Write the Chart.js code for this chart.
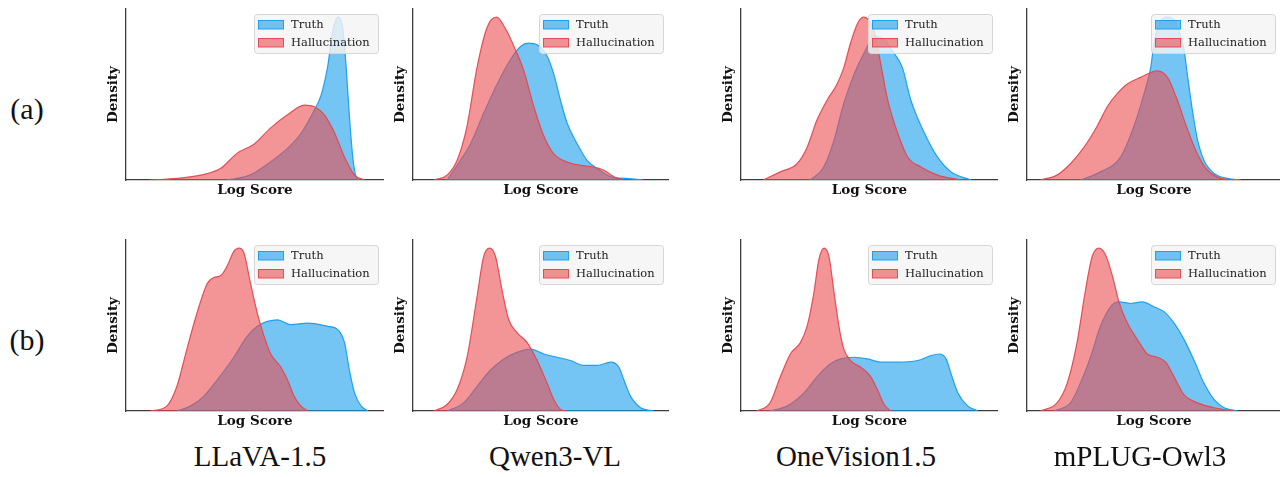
<!DOCTYPE html>
<html>
<head>
<meta charset="utf-8">
<script src="https://cdn.jsdelivr.net/npm/chart.js@4.4.0/dist/chart.umd.min.js"></script>
<style>
  html, body { margin: 0; padding: 0; background: #fff; }
  #page { position: relative; width: 1280px; height: 477px; overflow: hidden; }
  canvas { position: absolute; }
  .lbl { position: absolute; font-family: 'Liberation Serif', 'Times New Roman', serif; color: #111; white-space: nowrap; transform: translateX(-50%); }
</style>
</head>
<body>
<div id="page"></div>
<script>
// categories
const models = ['LLaVA-1.5', 'Qwen3-VL', 'OneVision1.5', 'mPLUG-Owl3'];
const rowLabels = ['(a)', '(b)'];
const seriesNames = ['Truth', 'Hallucination'];

// density curves: [log score (0-1 along axis), density (relative)]
const llavaA_truth = [[0.39,0],[0.48,0.03],[0.55,0.10],[0.63,0.20],[0.68,0.29],[0.73,0.43],[0.756,0.52],[0.782,0.70],[0.801,0.91],[0.821,1.0],[0.84,0.93],[0.853,0.70],[0.866,0.39],[0.879,0.14],[0.892,0.02],[0.905,0]];
const llavaA_hall = [[0.09,0],[0.2,0.01],[0.29,0.03],[0.366,0.07],[0.431,0.165],[0.496,0.22],[0.561,0.32],[0.626,0.40],[0.691,0.46],[0.73,0.45],[0.769,0.40],[0.808,0.29],[0.847,0.14],[0.886,0.03],[0.925,0]];
const qwenA_truth = [[0.133,0],[0.185,0.12],[0.224,0.22],[0.276,0.41],[0.329,0.59],[0.381,0.74],[0.42,0.82],[0.452,0.84],[0.485,0.83],[0.524,0.76],[0.55,0.65],[0.576,0.49],[0.602,0.35],[0.642,0.22],[0.68,0.12],[0.72,0.07],[0.772,0.02],[0.83,0.01],[0.9,0]];
const qwenA_hall = [[0.081,0],[0.133,0.03],[0.172,0.12],[0.211,0.33],[0.25,0.69],[0.29,0.94],[0.326,1.0],[0.361,0.93],[0.40,0.80],[0.433,0.67],[0.472,0.45],[0.511,0.27],[0.55,0.16],[0.602,0.11],[0.654,0.09],[0.707,0.08],[0.746,0.06],[0.785,0.02],[0.824,0]];
const oneA_truth = [[0.27,0],[0.322,0.08],[0.361,0.24],[0.40,0.47],[0.44,0.65],[0.479,0.78],[0.52,0.88],[0.56,0.86],[0.59,0.79],[0.628,0.69],[0.661,0.49],[0.713,0.29],[0.765,0.14],[0.817,0.05],[0.896,0]];
const oneA_hall = [[0.087,0],[0.153,0.05],[0.218,0.10],[0.257,0.20],[0.296,0.37],[0.335,0.49],[0.374,0.59],[0.40,0.69],[0.426,0.84],[0.453,0.96],[0.476,1.0],[0.498,0.98],[0.524,0.88],[0.544,0.71],[0.571,0.49],[0.609,0.29],[0.649,0.14],[0.70,0.08],[0.765,0.03],[0.857,0]];
const mplugA_truth = [[0.21,0],[0.29,0.05],[0.368,0.14],[0.421,0.33],[0.461,0.53],[0.487,0.69],[0.5,0.84],[0.52,0.96],[0.55,1.0],[0.585,0.97],[0.605,0.88],[0.618,0.80],[0.632,0.64],[0.651,0.43],[0.671,0.25],[0.697,0.12],[0.737,0.04],[0.789,0.01],[0.842,0]];
const mplugA_hall = [[0.053,0],[0.118,0.03],[0.171,0.10],[0.224,0.20],[0.276,0.33],[0.316,0.45],[0.355,0.53],[0.395,0.59],[0.447,0.63],[0.513,0.67],[0.553,0.63],[0.592,0.49],[0.632,0.31],[0.671,0.16],[0.711,0.06],[0.763,0.01],[0.816,0]];

const llavaB_truth = [[0.197,0],[0.249,0.03],[0.301,0.09],[0.353,0.19],[0.418,0.33],[0.47,0.46],[0.509,0.52],[0.548,0.55],[0.587,0.56],[0.639,0.53],[0.704,0.54],[0.782,0.52],[0.821,0.50],[0.847,0.42],[0.866,0.25],[0.886,0.11],[0.912,0.03],[0.938,0]];
const llavaB_hall = [[0.094,0],[0.158,0.03],[0.197,0.15],[0.236,0.38],[0.275,0.60],[0.314,0.78],[0.34,0.82],[0.366,0.83],[0.392,0.89],[0.418,0.98],[0.438,1.0],[0.457,0.97],[0.483,0.78],[0.509,0.60],[0.535,0.46],[0.561,0.35],[0.60,0.27],[0.626,0.19],[0.652,0.09],[0.678,0.03],[0.704,0]];
const qwenB_truth = [[0.133,0],[0.198,0.05],[0.25,0.15],[0.302,0.25],[0.355,0.32],[0.407,0.36],[0.459,0.38],[0.511,0.35],[0.563,0.33],[0.615,0.31],[0.668,0.28],[0.72,0.28],[0.772,0.30],[0.804,0.27],[0.824,0.19],[0.85,0.09],[0.889,0.02],[0.941,0]];
const qwenB_hall = [[0.081,0],[0.133,0.04],[0.172,0.13],[0.211,0.33],[0.25,0.70],[0.276,0.95],[0.30,1.0],[0.322,0.95],[0.348,0.74],[0.374,0.56],[0.407,0.48],[0.446,0.42],[0.485,0.31],[0.524,0.17],[0.55,0.07],[0.576,0.01],[0.60,0]];
const oneB_truth = [[0.113,0],[0.179,0.03],[0.244,0.11],[0.296,0.21],[0.348,0.29],[0.387,0.32],[0.44,0.33],[0.492,0.32],[0.544,0.30],[0.609,0.30],[0.687,0.31],[0.739,0.34],[0.772,0.35],[0.798,0.32],[0.817,0.23],[0.844,0.11],[0.883,0.03],[0.922,0]];
const oneB_hall = [[0.061,0],[0.113,0.05],[0.153,0.21],[0.192,0.35],[0.231,0.42],[0.257,0.52],[0.283,0.72],[0.303,0.93],[0.323,1.0],[0.342,0.95],[0.361,0.74],[0.381,0.52],[0.40,0.38],[0.426,0.31],[0.465,0.27],[0.505,0.21],[0.531,0.13],[0.557,0.04],[0.583,0]];
const mplugB_truth = [[0.105,0],[0.171,0.05],[0.21,0.17],[0.25,0.33],[0.289,0.52],[0.329,0.64],[0.362,0.67],[0.408,0.66],[0.454,0.67],[0.50,0.64],[0.539,0.61],[0.579,0.54],[0.618,0.44],[0.658,0.31],[0.697,0.17],[0.737,0.07],[0.776,0.02],[0.829,0]];
const mplugB_hall = [[0.053,0],[0.118,0.05],[0.158,0.17],[0.197,0.42],[0.23,0.74],[0.257,0.95],[0.283,1.0],[0.309,0.96],[0.336,0.83],[0.362,0.67],[0.395,0.54],[0.434,0.44],[0.474,0.35],[0.513,0.33],[0.546,0.30],[0.579,0.21],[0.618,0.10],[0.671,0.05],[0.737,0.02],[0.816,0]];

const panelsA = [[llavaA_truth, llavaA_hall], [qwenA_truth, qwenA_hall], [oneA_truth, oneA_hall], [mplugA_truth, mplugA_hall]];
const panelsB = [[llavaB_truth, llavaB_hall], [qwenB_truth, qwenB_hall], [oneB_truth, oneB_hall], [mplugB_truth, mplugB_hall]];

// layout (pixel positions of the axes)
const axLeft = [126, 413, 741, 1027];
const axRight = [383, 668, 997, 1280];
const axTop = [9, 240];
const axBottom = [180, 411];
const labelCenters = [260, 555, 856, 1140];

const fills = ['rgba(23,157,237,0.6)', 'rgba(235,77,80,0.6)'];
const lines = ['rgba(23,157,237,0.95)', 'rgba(228,72,80,0.95)'];
const spine = '#3c3c3c';

const page = document.getElementById('page');

// draws the matplotlib-style legend box in the upper right of the plot
const boxLegend = {
  id: 'boxLegend',
  afterDraw(chart) {
    const ctx = chart.ctx;
    const a = chart.chartArea;
    const w = 124, h = 39;
    const x = a.right - 6 - w, y = a.top + 5;
    ctx.save();
    ctx.beginPath();
    ctx.roundRect(x + 0.5, y + 0.5, w, h, 3);
    ctx.fillStyle = 'rgba(244,244,244,0.82)';
    ctx.fill();
    ctx.strokeStyle = '#d6d6d6';
    ctx.lineWidth = 1;
    ctx.stroke();
    ctx.font = '11.5px "DejaVu Serif"';
    ctx.textBaseline = 'middle';
    seriesNames.forEach((name, i) => {
      const cy = y + 10.5 + i * 18;
      ctx.fillStyle = fills[i];
      ctx.fillRect(x + 4, cy - 4.5, 25, 9);
      ctx.strokeStyle = lines[i];
      ctx.strokeRect(x + 4.5, cy - 4, 25, 8.5);
      ctx.fillStyle = '#222';
      ctx.fillText(name, x + 37, cy + 0.5);
    });
    ctx.restore();
  }
};

function makePanel(r, c, curves) {
  const yW = 30, xH = 24;
  const cv = document.createElement('canvas');
  const w = axRight[c] - axLeft[c] + yW + 1;
  const h = axBottom[r] - axTop[r] + xH + 1;
  cv.width = w;
  cv.height = h;
  cv.style.left = (axLeft[c] - yW) + 'px';
  cv.style.top = (axTop[r] - 1) + 'px';
  page.appendChild(cv);

  new Chart(cv, {
    type: 'line',
    data: {
      datasets: curves.map((pts, i) => ({
        label: seriesNames[i],
        data: pts.map(p => ({ x: p[0], y: p[1] })),
        borderColor: lines[i],
        backgroundColor: fills[i],
        borderWidth: 1.2,
        pointRadius: 0,
        fill: 'origin',
        cubicInterpolationMode: 'monotone',
        order: i === 0 ? 1 : 0,
      })),
    },
    options: {
      responsive: false,
      animation: false,
      layout: { padding: { top: 1, right: 0, left: 0, bottom: 0 } },
      plugins: { legend: { display: false }, tooltip: { enabled: false } },
      scales: {
        x: {
          type: 'linear',
          min: 0,
          max: 1,
          ticks: { display: false },
          grid: { display: false },
          border: { display: true, color: spine, width: 1.3 },
          title: {
            display: true,
            text: 'Log Score',
            color: '#111',
            font: { family: 'DejaVu Serif', weight: 'bold', size: 13.5 },
            padding: { top: 0, bottom: 5 },
          },
          afterFit(scale) { scale.height = xH; },
        },
        y: {
          min: 0,
          max: 1.05,
          ticks: { display: false },
          grid: { display: false },
          border: { display: true, color: spine, width: 1.3 },
          title: {
            display: true,
            text: 'Density',
            color: '#111',
            font: { family: 'DejaVu Serif', weight: 'bold', size: 13.5 },
            padding: { top: 9, bottom: 0 },
          },
          afterFit(scale) { scale.width = yW; },
        },
      },
    },
    plugins: [boxLegend],
  });
}

[panelsA, panelsB].forEach((row, r) => row.forEach((curves, c) => makePanel(r, c, curves)));

// row tags and model names
const rowCenters = [110, 341];
rowLabels.forEach((t, r) => {
  const d = document.createElement('div');
  d.className = 'lbl';
  d.textContent = t;
  d.style.fontSize = '30px';
  d.style.left = '27px';
  d.style.top = (rowCenters[r] - 18) + 'px';
  page.appendChild(d);
});
models.forEach((m, c) => {
  const d = document.createElement('div');
  d.className = 'lbl';
  d.textContent = m;
  d.style.fontSize = '29px';
  d.style.left = labelCenters[c] + 'px';
  d.style.top = '440px';
  page.appendChild(d);
});
</script>
</body>
</html>
